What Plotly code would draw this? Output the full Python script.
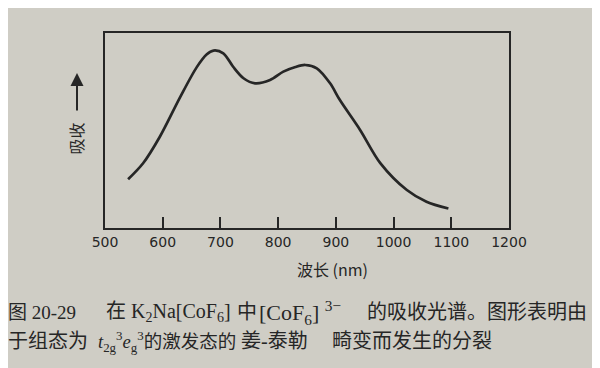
import plotly.graph_objects as go

wavelength_nm = [540, 566, 595, 630, 659, 676, 688, 705, 722, 740, 760, 786, 809, 830, 847, 867, 890, 907, 942, 977, 1023, 1057, 1095]
absorption = [25.0, 33.2, 46.8, 67.0, 82.5, 89.0, 91.0, 89.6, 82.7, 76.8, 74.2, 75.9, 80.2, 82.6, 83.6, 81.9, 74.2, 65.6, 50.3, 33.3, 19.5, 13.5, 10.0]
tick_values = [500, 600, 700, 800, 900, 1000, 1100, 1200]
tick_labels = ["500", "600", "700", "800", "900", "1000", "1100", "1200"]

ink = "#262626"
paper = "#cfcdc5"
font_cjk = "Noto Sans CJK SC"
font_cap = "Liberation Serif, Noto Sans CJK SC"

# page offset of the plot div (default body margin) and target plot box in screen pixels
OFF = 8
L, R, T, B = 105, 509, 33, 228
W, H = R - L, B - T


def px(x):
    return (x - L) / W


def py(y):
    return (B - y) / H


fig = go.Figure()
fig.add_trace(go.Scatter(
    x=wavelength_nm, y=absorption, mode="lines",
    line=dict(color=ink, width=2.7, shape="spline", smoothing=0.9),
    hoverinfo="skip", showlegend=False,
))

fig.update_layout(
    width=600, height=368,
    margin=dict(l=L - OFF, r=600 - (R - OFF), t=T - OFF, b=368 - (B - OFF)),
    paper_bgcolor=paper, plot_bgcolor=paper,
    font=dict(family=font_cjk, color=ink),
    xaxis=dict(
        range=[500, 1200], tickvals=tick_values, ticktext=tick_labels,
        showgrid=False, zeroline=False, automargin=False,
        showline=True, mirror=True, linecolor=ink, linewidth=2,
        ticks="inside", ticklen=11, tickwidth=1.6, tickcolor=ink,
        tickfont=dict(family="DejaVu Sans", size=14, color=ink),
    ),
    yaxis=dict(
        range=[0, 100], showticklabels=False, ticks="",
        showgrid=False, zeroline=False, automargin=False,
        showline=True, mirror=True, linecolor=ink, linewidth=2,
    ),
)


def label(text, x, y, size, xanchor="center", family=font_cap, angle=0):
    fig.add_annotation(
        text=text, xref="paper", yref="paper", x=px(x), y=py(y),
        xanchor=xanchor, yanchor="middle", showarrow=False, textangle=angle,
        font=dict(size=size, color=ink, family=family),
    )


# y-axis label with upward arrow
label("吸收", 75.5, 139, 16, family=font_cjk, angle=-90)
fig.add_annotation(
    xref="paper", yref="paper", x=px(77), y=py(73),
    ax=0, ay=39, text="", showarrow=True, arrowhead=2, arrowsize=1.3,
    arrowwidth=2, arrowcolor=ink,
)

# x-axis title
label("波长 (nm)", 332, 269, 16, family=font_cjk)

# caption, line 1
label("图 20-29", 6, 312, 19, xanchor="left")
label("在 K<sub>2</sub>Na[CoF<sub>6</sub>]", 104, 312, 20, xanchor="left")
label("中", 235, 312, 20, xanchor="left")
label("[CoF<sub>6</sub>] <sup>3−</sup>", 257, 312, 22, xanchor="left")
label("的吸收光谱。图形表明由", 589, 312, 20, xanchor="right")
# caption, line 2
label("于组态为", 6, 341, 20, xanchor="left")
label("<i>t</i><sub>2g</sub><sup>3</sup><i>e</i><sub>g</sub><sup>3</sup>的激发态的", 96, 341, 18.5, xanchor="left")
label("姜-泰勒", 239, 341, 20, xanchor="left")
label("畸变而发生的分裂", 494, 341, 20, xanchor="right")

fig.write_html("out.html")
